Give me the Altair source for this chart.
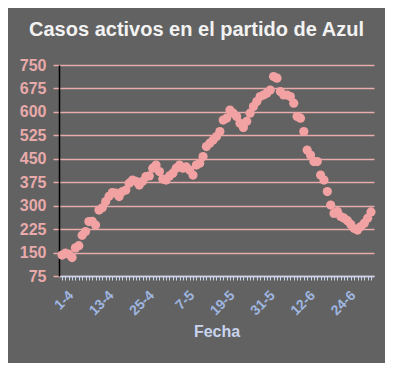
import altair as alt
import pandas as pd

# Casos activos diarios desde el 1-4 (93 días)
casos = [142, 148, 145, 134, 165, 172, 205, 217, 249, 250,
         238, 286, 293, 313, 330, 342, 340, 329, 345, 350,
         372, 382, 378, 366, 378, 393, 395, 420, 430, 409,
         385, 382, 395, 404, 420, 430, 420, 424, 414, 398,
         430, 436, 457, 489, 500, 510, 521, 537, 574, 580,
         606, 596, 585, 564, 550, 570, 596, 617, 633, 649,
         654, 660, 670, 713, 708, 665, 654, 654, 649, 628,
         585, 580, 537, 478, 462, 441, 441, 398, 382, 345,
         302, 275, 281, 265, 260, 252, 240, 227, 222, 233,
         244, 260, 280]
etiquetas_x = ["1-4", "13-4", "25-4", "7-5", "19-5", "31-5", "12-6", "24-6"]
ticks_y = [75, 150, 225, 300, 375, 450, 525, 600, 675, 750]

df = pd.DataFrame({"dia": list(range(len(casos))), "casos": casos})

arr = "[" + ",".join("'" + e + "'" for e in etiquetas_x) + "]"
label_expr = (f"(datum.value % 12 == 0 && datum.value / 12 < {len(etiquetas_x)}) ? "
              f"{arr}[datum.value / 12] : ''")

FONT = "Liberation Sans"
PINK = "#e8aaaa"

chart = alt.Chart(df).mark_circle(size=85, opacity=1, color="#f2a2a2").encode(
    x=alt.X("dia:Q",
            scale=alt.Scale(domain=[-0.9, 92.9], nice=False, zero=False),
            axis=alt.Axis(values=list(range(len(casos))), labelExpr=label_expr,
                          labelOverlap=False, labelBound=False, labelFlush=False,
                          grid=False, labelAngle=-45, labelOffset=4,
                          labelColor="#9fb6e0", labelFont=FONT, labelFontSize=14,
                          labelFontWeight="bold", labelPadding=8,
                          domainColor="#c8d6f0", domainWidth=1.5,
                          tickColor="#c8d6f0", tickSize=4, tickWidth=1,
                          title="Fecha", titleColor="#c8d4ee", titleFont=FONT,
                          titleFontSize=16, titleFontWeight="bold", titlePadding=6)),
    y=alt.Y("casos:Q",
            scale=alt.Scale(domain=[75, 750], nice=False, zero=False),
            axis=alt.Axis(values=ticks_y, grid=True, gridColor=PINK, gridWidth=1.5,
                          domainColor="#000000", domainWidth=1.5,
                          tickColor=PINK, tickSize=6, tickWidth=1.5,
                          labelColor=PINK, labelFont=FONT, labelFontSize=16,
                          labelFontWeight="bold", labelPadding=7, title=None)),
).properties(
    width=315, height=211,
    autosize=alt.AutoSizeParams(type="none"),
    padding={"left": 51, "top": 57, "right": 11, "bottom": 87},
    background="#626262",
    title=alt.TitleParams("Casos activos en el partido de Azul", color="#f2f2f2",
                          font=FONT, fontSize=20, fontWeight="bold",
                          anchor="middle", dx=-20, offset=17),
).configure_view(stroke=None)

chart.save("out.html", embed_options={"renderer": "svg", "actions": False})
